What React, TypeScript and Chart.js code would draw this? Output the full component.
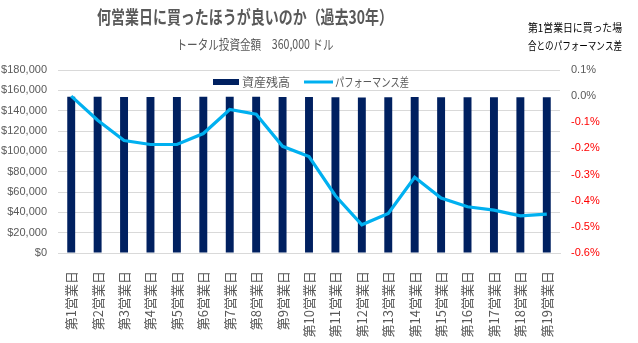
import React, { useEffect, useRef } from "react";
import { Chart, registerables } from "chart.js";

Chart.register(...registerables);

const categories = [
  "第1営業日", "第2営業日", "第3営業日", "第4営業日", "第5営業日",
  "第6営業日", "第7営業日", "第8営業日", "第9営業日", "第10営業日",
  "第11営業日", "第12営業日", "第13営業日", "第14営業日", "第15営業日",
  "第16営業日", "第17営業日", "第18営業日", "第19営業日",
];

const assetBalance = [
  153800, 153660, 153540, 153520, 153520, 153580, 153720, 153690, 153500, 153450,
  153210, 153040, 153110, 153320, 153200, 153150, 153130, 153100, 153110,
];

const performanceDiff = [
  0.0, -0.092, -0.17, -0.185, -0.185, -0.143, -0.051, -0.069, -0.192, -0.231,
  -0.381, -0.492, -0.449, -0.31, -0.39, -0.423, -0.436, -0.458, -0.451,
];

const seriesNames = ["資産残高", "パフォーマンス差"];
const titleText = "何営業日に買ったほうが良いのか（過去30年）";
const subtitleText = "トータル投資金額　360,000 ドル";
const noteLines = ["第1営業日に買った場", "合とのパフォーマンス差"];

const BAR_COLOR = "#002060";
const LINE_COLOR = "#00b0f0";
const GRAY = "#595959";
const JP_FONT = '"Noto Sans CJK JP", "Noto Sans", sans-serif';
const NUM_FONT = '"Liberation Sans", "Noto Sans", sans-serif';

const overlayPlugin = {
  id: "overlay",
  afterDraw(chart: any) {
    const ctx = chart.ctx;
    ctx.save();
    ctx.textBaseline = "middle";
    // Title
    ctx.fillStyle = GRAY;
    ctx.textAlign = "center";
    ctx.font = `bold 18px ${JP_FONT}`;
    ctx.fillText(titleText, 245, 17, 296);
    ctx.font = `13px ${JP_FONT}`;
    ctx.fillText(subtitleText, 255, 44, 157);
    // Note
    ctx.fillStyle = "#000000";
    ctx.textAlign = "left";
    ctx.font = `11px ${JP_FONT}`;
    ctx.fillText(noteLines[0], 528, 28, 94);
    ctx.fillText(noteLines[1], 528, 46, 94);
    // Legend
    const ds = chart.data.datasets;
    ctx.fillStyle = ds[0].backgroundColor;
    ctx.fillRect(213, 79, 26, 6);
    ctx.fillStyle = GRAY;
    ctx.font = `12px ${JP_FONT}`;
    ctx.fillText(ds[0].label, 242, 82, 48);
    ctx.strokeStyle = ds[1].borderColor;
    ctx.lineWidth = 3;
    ctx.beginPath();
    ctx.moveTo(304, 82);
    ctx.lineTo(333, 82);
    ctx.stroke();
    ctx.fillText(ds[1].label, 335, 82, 74);
    ctx.restore();
  },
};

export default function App() {
  const ref = useRef<HTMLCanvasElement>(null);

  useEffect(() => {
    if (!ref.current) return;
    const chart = new Chart(ref.current, {
      type: "bar",
      data: {
        labels: categories,
        datasets: [
          {
            type: "bar",
            label: seriesNames[0],
            data: assetBalance,
            backgroundColor: BAR_COLOR,
            borderWidth: 0,
            barPercentage: 0.3,
            categoryPercentage: 1,
            yAxisID: "y",
            order: 2,
          },
          {
            type: "line",
            label: seriesNames[1],
            data: performanceDiff,
            borderColor: LINE_COLOR,
            backgroundColor: LINE_COLOR,
            borderWidth: 3.2,
            pointRadius: 0,
            tension: 0,
            yAxisID: "y1",
            order: 1,
          } as any,
        ],
      },
      options: {
        responsive: false,
        animation: false,
        layout: { padding: { top: 70, left: 0, right: 0, bottom: 0 } },
        plugins: {
          legend: { display: false },
          title: { display: false },
          tooltip: { enabled: false },
        },
        scales: {
          x: {
            grid: { display: false },
            border: { display: true, color: "#d9d9d9" },
            ticks: {
              color: GRAY,
              font: { family: JP_FONT, size: 13 },
              minRotation: 90,
              maxRotation: 90,
              padding: 10,
              autoSkip: false,
            },
            afterFit(scale: any) {
              scale.height = 90;
            },
          },
          y: {
            position: "left",
            min: 0,
            max: 180000,
            grid: { color: "#d9d9d9", drawTicks: false },
            border: { display: false },
            ticks: {
              stepSize: 20000,
              color: GRAY,
              padding: 11,
              font: { family: NUM_FONT, size: 11 },
              callback: (v: any) => "$" + Number(v).toLocaleString("en-US"),
            },
            afterFit(scale: any) {
              scale.width = 58;
            },
          },
          y1: {
            position: "right",
            min: -0.6,
            max: 0.1,
            grid: { display: false, drawTicks: false },
            border: { display: false },
            ticks: {
              stepSize: 0.1,
              padding: 11,
              font: { family: NUM_FONT, size: 11 },
              color: (c: any) => (c.tick && c.tick.value < -1e-9 ? "#ff0000" : GRAY),
              callback: (v: any) => {
                const n = Math.abs(Number(v)) < 1e-9 ? 0 : Number(v);
                return n.toFixed(1) + "%";
              },
            },
            afterFit(scale: any) {
              scale.width = 78;
            },
          },
        },
      },
      plugins: [overlayPlugin],
    });
    return () => chart.destroy();
  }, []);

  return (
    <div style={{ position: "absolute", left: 0, top: 0, width: 638, height: 343, background: "#fff" }}>
      <canvas ref={ref} width={638} height={343} style={{ display: "block" }} />
    </div>
  );
}
